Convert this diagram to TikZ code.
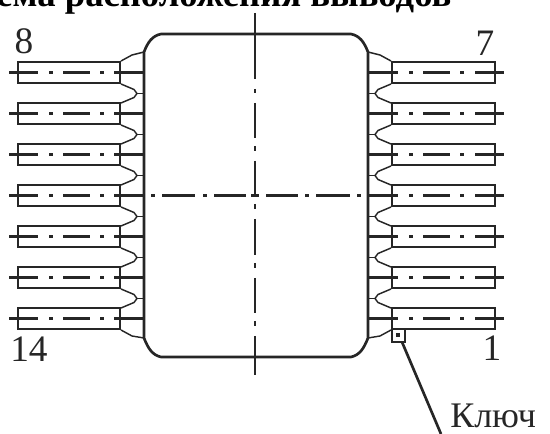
\documentclass[tikz,border=0pt]{standalone}
\usepackage{fontspec}
\setmainfont{Liberation Serif}
\tikzset{
 outline/.style={line width=2pt,black!85},
 thin line/.style={line width=1.6pt,black!85},
 axis line/.style={line width=2pt,black!85},
 lobe/.style={line width=1.1pt,black!85,line join=round},
 lbl/.style={inner sep=0pt,font=\fontsize{28}{28}\selectfont,text=black!85},
}
\begin{document}
\begin{tikzpicture}[x=0.75pt,y=-0.75pt]
\useasboundingbox (0,0) rectangle (550,434);
\begin{scope}
\clip (0,0) rectangle (550,434);
\node[inner sep=0pt,anchor=base,font=\bfseries\fontsize{27.5}{27.5}\selectfont] (title) at (202,7) {Схема расположения выводов};
\end{scope}
% body
\draw[outline] (144,52) .. controls (148,42) and (152,36) .. (161,34) -- (351,34) .. controls (360,36) and (364,42) .. (368,52)
  -- (368,338) .. controls (364,348) and (360,355) .. (351,357) -- (161,357) .. controls (152,355) and (148,348) .. (144,338) -- cycle;
% axes
\draw[axis line] (255,13) -- (255,79) (255,89) -- (255,93) (255,103) -- (255,138) (255,146) -- (255,151) (255,161) -- (255,197) (255,204)--(255,209) (255,219)--(255,255) (255,263)--(255,268) (255,278)--(255,313) (255,321)--(255,326) (255,336)--(255,375);
\draw[thin line] (151,195.5)--(155,195.5) (162,195.5)--(195,195.5) (203,195.5)--(207,195.5) (214,195.5)--(246,195.5) (251,195.5)--(259,195.5) (266,195.5)--(298,195.5) (305,195.5)--(309,195.5) (316,195.5)--(350,195.5) (357,195.5)--(361,195.5);
\foreach \yc in {72.5,113.5,154.5,195.5,236.5,277.5,318.5}{
  % left pin
  \draw[outline] (18,\yc-10.5) rectangle (120,\yc+10.5);
  \draw[thin line] (9,\yc)--(38,\yc) (49,\yc)--(53,\yc) (63,\yc)--(90,\yc) (100,\yc)--(104,\yc) (114,\yc)--(144,\yc);
  % right pin
  \draw[outline] (392,\yc-10.5) rectangle (495,\yc+10.5);
  \draw[thin line] (368,\yc)--(398,\yc) (409,\yc)--(413,\yc) (423,\yc)--(450,\yc) (460,\yc)--(464,\yc) (475,\yc)--(504,\yc);
}
% pin shoulders
\draw[lobe] (121,61) -- (132,55) -- (144,52);
\draw[lobe] (391,61) -- (380,55) -- (368,52);
\draw[lobe] (121,330) -- (132,336) -- (144,338);
\draw[lobe] (391,330) -- (380,336) -- (368,338);
\foreach \yc in {93.5,134.5,175.5,216.5,257.5,298.5}{
  \draw[lobe] (121,\yc-9.5) -- (134,\yc-4) -- (137,\yc) -- (134,\yc+4) -- (121,\yc+9.5);
  \draw[lobe] (137,\yc)--(144,\yc);
  \draw[lobe] (391,\yc-9.5) -- (378,\yc-4) -- (375,\yc) -- (378,\yc+4) -- (391,\yc+9.5);
  \draw[lobe] (375,\yc)--(368,\yc);
}
% key
\draw[axis line] (392,329) rectangle (405,342);
\fill[black!85] (396,333) rectangle (400,337);
\coordinate (keyc) at (402,342);
\coordinate (keyend) at (441,434);
\draw[axis line] (keyc)--(keyend);
% labels
\node[lbl] (n8) at (24,41) {8};
\node[lbl] (n7) at (485,43) {7};
\node[lbl] (n14) at (29,349) {14};
\node[lbl] (n1) at (492,348) {1};
\node[lbl,anchor=base west,font=\fontsize{27}{27}\selectfont] (key) at (450,428) {Ключ};
\end{tikzpicture}
\end{document}
